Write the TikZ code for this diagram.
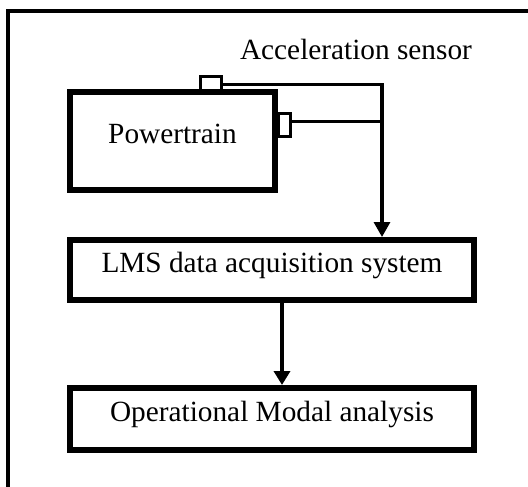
\documentclass[tikz,border=0pt]{standalone}
\usepackage{fontspec}
\setmainfont{Liberation Serif}
\usetikzlibrary{positioning,arrows.meta,calc}

\begin{document}
\begin{tikzpicture}[x=1pt,y=-1pt]

\tikzset{
	block/.style={
		rectangle,
		line width=6pt,
		draw=black,
		font=\fontsize{29.3}{35}\selectfont,
		text height=0.68em,
		text depth=0.1em,
		inner sep=0pt
	}
}

\tikzset{
	sensor/.style={
		rectangle,
		line width=3pt,
		draw=black,
		inner sep=0pt
	}
}

\tikzset{
	wire/.style={line width=3.3pt},
	flow/.style={line width=4.5pt},
	caption/.style={font=\fontsize{29.3}{35}\selectfont, anchor=base, inner sep=0pt}
}

\def\gapup{44pt}
\def\gapdown{82pt}

\useasboundingbox (0,0) rectangle (528,487);

% frame
\draw[line width=4pt] (8,500) -- (8,11) -- (540,11);

% powertrain
\node[block, minimum width=205pt, minimum height=98pt] (power) at (172.5,141) {Powertrain};

% data acquisition
\node[block, minimum width=404pt, minimum height=60pt, below=\gapup of power.south west, anchor=north west] (lms) {LMS data acquisition system};

% modal analysis
\node[block, minimum width=404pt, minimum height=62pt, below=\gapdown of lms] (oma) {Operational Modal analysis};

% sensors
\node[sensor, minimum width=21pt, minimum height=15pt] (topsensor) at (210.5,84.5) {};
\node[sensor, minimum width=11.5pt, minimum height=22.5pt] (sidesensor) at (284.25,125.25) {};
\node[caption] (senslabel) at (356,59.3) {Acceleration sensor};

% wires
\coordinate (tap) at ([xshift=110pt]lms.north);
\draw[wire, -{Triangle[length=15pt,width=16pt]}] (topsensor.east) -| (tap);
\draw[wire] ([yshift=4pt]sidesensor.east) -- ([yshift=4pt]sidesensor.east -| tap);

% to analysis
\draw[flow, -{Triangle[length=14pt,width=16pt]}] ([xshift=10pt]lms.south) -- ([xshift=10pt]oma.north);

\end{tikzpicture}
\end{document}
